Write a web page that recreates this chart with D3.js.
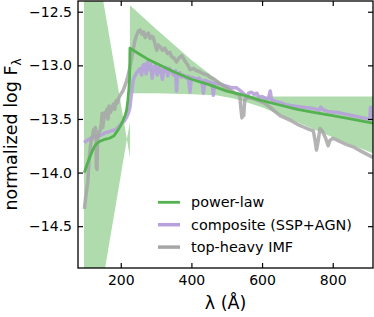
<html>
<head>
	<script src="https://d3js.org/d3.v7.min.js"></script>
	<style>
		body { margin: 0; background: #fff; }
		text { font-family: "DejaVu Sans", sans-serif; fill: #000; }
	</style>
</head>
<body>
	<script>
		// values: [wavelength (A), normalized log F]
		var powerLaw = [
			[97, -14.00], [104, -13.93], [111, -13.87], [118, -13.81], [125, -13.76], [132, -13.73],
			[140, -13.71], [155, -13.69], [168, -13.68], [180, -13.66], [193, -13.60], [200, -13.56],
			[207, -13.51], [213, -13.46], [217, -13.41], [220, -13.33], [223, -13.22], [225, -13.12],
			[226, -12.84], [250, -12.89], [275, -12.94], [300, -12.98], [350, -13.06], [400, -13.13],
			[450, -13.18], [500, -13.24], [550, -13.28], [600, -13.33], [650, -13.37], [700, -13.41],
			[750, -13.44], [800, -13.47], [850, -13.50], [914, -13.54]
		];

		// uncertainty band of the power-law: [wavelength, lower, upper]
		var powerLawBand = [
			[96, -16.05, -11.35], [217.4, -13.69, -13.69], [226, -13.86, -13.53],
			[226, -13.26, -12.44], [300, -13.26, -12.66], [400, -13.27, -12.95], [470, -13.28, -13.13],
			[520, -13.31, -13.24], [560, -13.35, -13.28], [600, -13.39, -13.29], [700, -13.53, -13.29],
			[800, -13.67, -13.29], [914, -13.82, -13.29]
		];

		var composite = [
			[96, -13.72], [105, -13.70], [115, -13.68], [125, -13.67], [135, -13.66], [145, -13.65],
			[155, -13.63], [165, -13.62], [175, -13.61], [185, -13.60], [195, -13.57], [203, -13.54],
			[210, -13.52], [217, -13.48], [222, -13.44], [226, -13.39], [229, -13.30], [232, -13.22],
			[235, -13.14], [240, -13.10], [245, -13.07], [250, -13.05], [255, -13.03], [259, -13.09],
			[263, -13.00], [268, -12.99], [272, -13.08], [276, -12.97], [281, -13.04], [285, -12.99],
			[289, -13.12], [293, -13.03], [298, -13.00], [303, -13.09], [308, -13.02], [313, -13.05],
			[318, -13.13], [322, -13.03], [328, -13.02], [333, -13.10], [338, -13.03], [344, -13.06],
			[350, -13.09], [355, -13.05], [358, -13.24], [361, -13.08], [367, -13.07], [372, -13.11],
			[378, -13.09], [385, -13.12], [391, -13.10], [396, -13.25], [400, -13.11], [408, -13.12],
			[415, -13.13], [422, -13.12], [430, -13.15], [434, -13.26], [438, -13.14], [445, -13.15],
			[452, -13.16], [458, -13.16], [462, -13.28], [466, -13.17], [475, -13.17], [485, -13.18],
			[495, -13.19], [505, -13.20], [515, -13.21], [528, -13.21], [540, -13.24], [550, -13.27],
			[556, -13.30], [562, -13.26], [570, -13.25], [578, -13.27], [585, -13.26], [592, -13.30],
			[600, -13.29], [610, -13.31], [618, -13.31], [623, -13.24], [627, -13.32], [640, -13.34],
			[655, -13.35], [670, -13.37], [690, -13.38], [716, -13.39], [740, -13.40], [755, -13.41],
			[762, -13.42], [766, -13.39], [771, -13.41], [785, -13.43], [797, -13.435], [815, -13.44],
			[835, -13.455], [857, -13.47], [880, -13.485], [900, -13.50], [905, -13.50], [907, -13.39],
			[909, -13.50], [914, -13.50]
		];

		var topHeavy = [
			[97, -14.34], [100, -14.25], [104, -14.15], [107, -14.08], [109, -13.95], [111, -13.86],
			[114, -13.76], [117, -13.70], [120, -13.66], [123, -13.60], [126, -13.64], [128, -13.58],
			[130, -13.62], [131, -13.95], [133, -13.97], [134, -13.70], [138, -13.63], [142, -13.60],
			[145, -13.55], [147, -13.45], [149, -13.58], [152, -13.50], [155, -13.44], [158, -13.48],
			[161, -13.41], [164, -13.50], [167, -13.38], [171, -13.44], [175, -13.40], [179, -13.36],
			[183, -13.41], [187, -13.33], [191, -13.35], [195, -13.30], [200, -13.27], [206, -13.24],
			[212, -13.19], [217, -13.14], [221, -13.09], [226, -13.02], [231, -12.93], [236, -12.84],
			[240, -12.77], [245, -12.72], [250, -12.68], [255, -12.67], [260, -12.71], [265, -12.69],
			[269, -12.74], [273, -12.72], [278, -12.70], [283, -12.75], [288, -12.73], [292, -12.74],
			[297, -12.80], [302, -12.86], [306, -12.81], [312, -12.83], [318, -12.86], [325, -12.84],
			[332, -12.89], [339, -12.88], [344, -12.92], [350, -12.93], [358, -12.97], [365, -12.93],
			[373, -12.91], [380, -12.95], [390, -13.00], [396, -13.04], [405, -13.03], [415, -13.05],
			[424, -13.06], [435, -13.08], [445, -13.09], [453, -13.11], [465, -13.13], [481, -13.17],
			[495, -13.20], [509, -13.23], [525, -13.26], [537, -13.28], [540, -13.40], [543, -13.49],
			[546, -13.42], [548, -13.47], [551, -13.32], [560, -13.30], [575, -13.31], [590, -13.33],
			[605, -13.35], [622, -13.39], [636, -13.43], [651, -13.47], [665, -13.49], [679, -13.51],
			[700, -13.55], [717, -13.575], [735, -13.60], [745, -13.61], [750, -13.70], [754, -13.79],
			[758, -13.72], [764, -13.59], [770, -13.61], [780, -13.68], [787, -13.75], [792, -13.70],
			[801, -13.68], [820, -13.71], [840, -13.74], [858, -13.76], [880, -13.80], [914, -13.86]
		];

		var xTicks = [200, 400, 600, 800];
		var yTicks = [-12.5, -13.0, -13.5, -14.0, -14.5];
		var legendLabels = ["power-law", "composite (SSP+AGN)", "top-heavy IMF"];

		var outerWidth = 374;
		var outerHeight = 317;
		var margin = { left: 78, top: 1, right: 1, bottom: 49 };
		var innerWidth = outerWidth - margin.left - margin.right;
		var innerHeight = outerHeight - margin.top - margin.bottom;

		var green = "#55b251";
		var purple = "#b7a0db";
		var grey = "#a6a6a6";

		var svg = d3.select("body").append("svg")
			.attr("width", outerWidth)
			.attr("height", outerHeight);

		var g = svg.append("g")
			.attr("transform", "translate(" + margin.left + "," + margin.top + ")");

		var xScale = d3.scaleLinear().domain([79, 914]).range([0, innerWidth]);
		var yScale = d3.scaleLinear().domain([-14.89, -12.40]).range([innerHeight, 0]);

		g.append("clipPath").attr("id", "plotclip")
			.append("rect").attr("width", innerWidth).attr("height", innerHeight);

		var plot = g.append("g").attr("clip-path", "url(#plotclip)");

		var band = d3.area()
			.x(function(d) { return xScale(d[0]); })
			.y0(function(d) { return yScale(d[1]); })
			.y1(function(d) { return yScale(d[2]); });

		var line = d3.line()
			.x(function(d) { return xScale(d[0]); })
			.y(function(d) { return yScale(d[1]); });

		plot.append("path").datum(powerLawBand)
			.attr("d", band)
			.attr("fill", "#4daf4a")
			.attr("fill-opacity", 0.45);

		plot.append("path").datum(composite)
			.attr("d", line)
			.attr("fill", "none")
			.attr("stroke", purple)
			.attr("stroke-width", 3.5)
			.attr("stroke-linejoin", "round")
			.attr("opacity", 0.9);

		plot.append("path").datum(topHeavy)
			.attr("d", line)
			.attr("fill", "none")
			.attr("stroke", grey)
			.attr("stroke-width", 3.5)
			.attr("stroke-linejoin", "round")
			.attr("opacity", 0.85);

		plot.append("path").datum(powerLaw)
			.attr("d", line)
			.attr("fill", "none")
			.attr("stroke", green)
			.attr("stroke-width", 2.8)
			.attr("stroke-linejoin", "round");

		// axes, ticks inward on all four sides
		var fmt = d3.format(".1f");
		var xAxisBottom = d3.axisBottom(xScale).tickValues(xTicks).tickSizeInner(-5).tickSizeOuter(0).tickPadding(7).tickFormat(d3.format("d"));
		var xAxisTop = d3.axisTop(xScale).tickValues(xTicks).tickSizeInner(-5).tickSizeOuter(0);
		var yAxisLeft = d3.axisLeft(yScale).tickValues(yTicks).tickSizeInner(-5).tickSizeOuter(0).tickPadding(6).tickFormat(fmt);
		var yAxisRight = d3.axisRight(yScale).tickValues(yTicks).tickSizeInner(-5).tickSizeOuter(0);

		var topG = g.append("g").call(xAxisTop);
		var rightG = g.append("g").attr("transform", "translate(" + innerWidth + ",0)").call(yAxisRight);
		topG.selectAll("text").remove();
		rightG.selectAll("text").remove();

		var axes = [
			g.append("g").attr("transform", "translate(0," + innerHeight + ")").call(xAxisBottom),
			topG,
			g.append("g").call(yAxisLeft),
			rightG
		];
		axes.forEach(function(a) {
			a.select(".domain").remove();
			a.selectAll("line").attr("stroke", "#000").attr("stroke-width", 1.2);
			a.selectAll("text").style("font-size", "14px").attr("font-family", null);
		});

		g.append("rect")
			.attr("width", innerWidth)
			.attr("height", innerHeight)
			.attr("fill", "none")
			.attr("stroke", "#000")
			.attr("stroke-width", 1.3);

		// axis labels
		svg.append("text")
			.attr("x", margin.left + innerWidth / 2)
			.attr("y", 309)
			.attr("text-anchor", "middle")
			.style("font-size", "17.5px")
			.text("λ (Å)");

		var yLabel = svg.append("text")
			.attr("transform", "translate(17," + (margin.top + innerHeight / 2) + ") rotate(-90)")
			.attr("text-anchor", "middle")
			.style("font-size", "17.5px");
		yLabel.append("tspan").text("normalized log F");
		yLabel.append("tspan").attr("dy", 4).style("font-size", "12px").text("λ");

		// legend
		var legendColors = [green, purple, grey];
		var legendWidths = [2.8, 3.5, 3.5];
		var legend = svg.append("g");
		legendLabels.forEach(function(label, i) {
			var y = 202.3 + i * 22.4;
			legend.append("line")
				.attr("x1", 158).attr("x2", 180)
				.attr("y1", y).attr("y2", y)
				.attr("stroke", legendColors[i])
				.attr("stroke-width", legendWidths[i]);
			legend.append("text")
				.attr("x", 191)
				.attr("y", y)
				.attr("dy", "0.35em")
				.style("font-size", "14.4px")
				.text(label);
		});
	</script>
</body>
</html>
